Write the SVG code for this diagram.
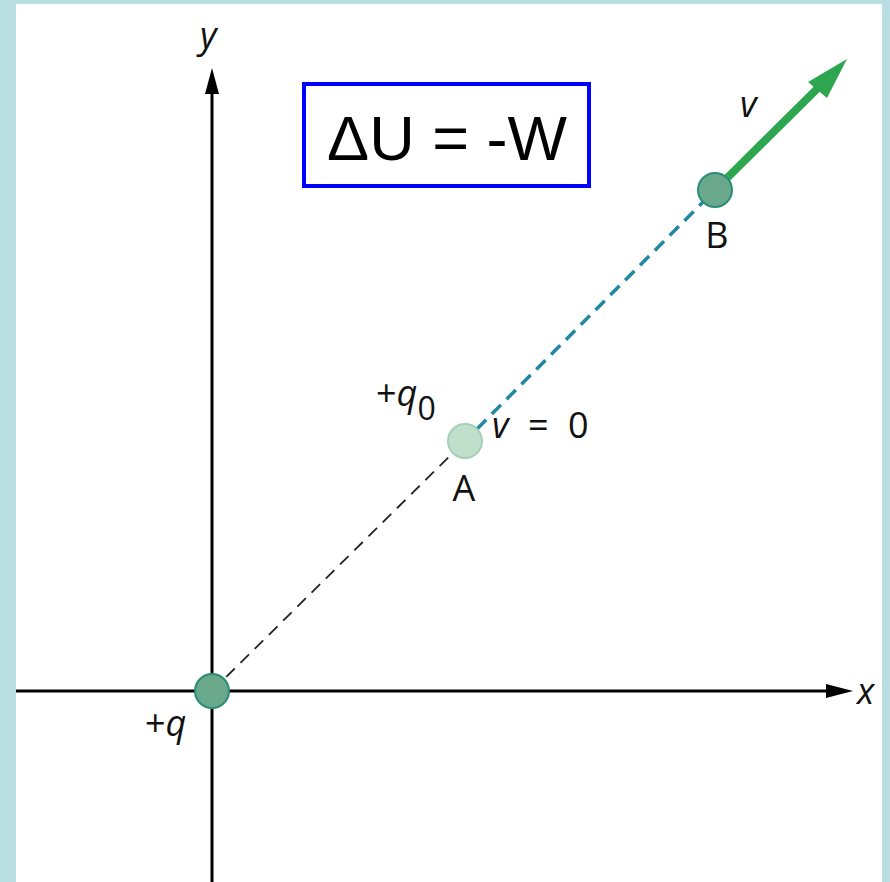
<svg xmlns="http://www.w3.org/2000/svg" width="890" height="882" viewBox="0 0 890 882">
<style>
.lbl{font-family:"Open Sans","Noto Sans","Liberation Sans",sans-serif;font-size:36px;fill:#111}
.it{font-style:italic}
.axis{stroke:#000;stroke-width:3;fill:none}
.charge{stroke-width:2}
</style>
<rect x="0" y="0" width="890" height="882" fill="#b9dfe2"/>
<rect x="16" y="4" width="866" height="878" fill="#ffffff"/>

<g id="axes">
<line class="axis" x1="212" y1="882" x2="212" y2="90"/>
<polygon points="212,68 205,94 219,94" fill="#000"/>
<line class="axis" x1="16" y1="691" x2="828" y2="691"/>
<polygon points="853,691 826,684 826,698" fill="#000"/>
<text class="lbl it" x="200" y="48" font-size="40">y</text>
<text class="lbl it" x="857" y="704" font-size="40">x</text>
</g>

<g id="connectors">
<line x1="212" y1="691" x2="465" y2="441" stroke="#222" stroke-width="1.8" stroke-dasharray="12,8"/>
<line x1="465" y1="441" x2="715" y2="190" stroke="#2187a3" stroke-width="3.5" stroke-dasharray="13,8" stroke-dashoffset="4"/>
<line x1="715" y1="190" x2="826" y2="80" stroke="#2ea64f" stroke-width="8"/>
<polygon points="847,59 808,82 827,98" fill="#2ea64f"/>
</g>

<g id="box">
<rect x="304" y="84" width="285" height="102" fill="#fff" stroke="#0000ff" stroke-width="4"/>
<text x="447" y="160" text-anchor="middle" font-family="Liberation Sans, Arial, sans-serif" font-size="63" fill="#000">ΔU = -W</text>
</g>

<g id="charge-q">
<circle class="charge" cx="212" cy="691" r="17" fill="#6aa88b" stroke="#2b8d76"/>
<text class="lbl" x="145" y="736">+<tspan class="it">q</tspan></text>
</g>

<g id="point-A">
<circle class="charge" cx="465" cy="441" r="17" fill="#c0e0cc" stroke="#a6cfb7"/>
<text class="lbl" x="376" y="406">+<tspan class="it">q</tspan><tspan font-size="32" dy="14">0</tspan></text>
<text class="lbl" y="438"><tspan class="it" x="492">v</tspan><tspan x="528">=</tspan><tspan x="568">0</tspan></text>
<text class="lbl" x="464" y="501" text-anchor="middle">A</text>
</g>

<g id="point-B">
<circle class="charge" cx="715" cy="190" r="17" fill="#6aa88b" stroke="#2b8d76"/>
<text class="lbl" x="717" y="248" text-anchor="middle">B</text>
<text class="lbl it" x="740" y="117" font-size="38">v</text>
</g>
</svg>
